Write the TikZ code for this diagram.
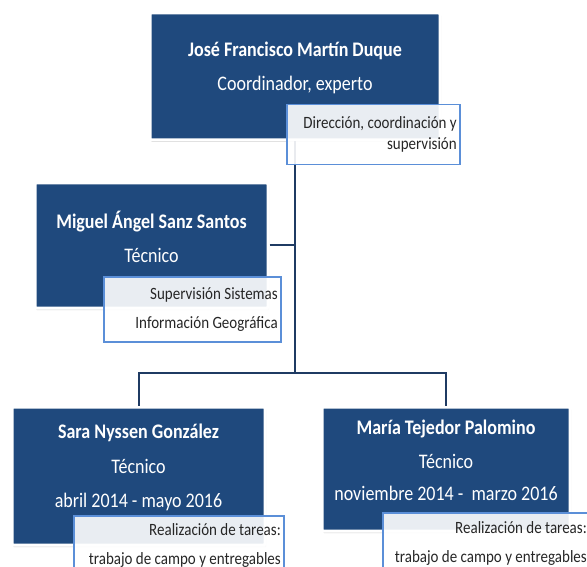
\documentclass[tikz,border=0pt]{standalone}
\usepackage{fontspec}
\setmainfont{Carlito}
\usepackage{tikz}
\usetikzlibrary{positioning,calc,shadows}
\usepackage{xcolor}
\definecolor{azul}{HTML}{1F497D}
\definecolor{marino}{HTML}{1F3B63}
\definecolor{borde}{HTML}{5B8FD8}

\begin{document}
\begin{tikzpicture}[x=1pt, y=-1pt,
    persona/.style={rectangle, anchor=north west, fill=azul, draw=white, line width=3pt,
      rounded corners=1pt, inner sep=0pt,
      drop shadow={shadow xshift=1pt, shadow yshift=-2pt, opacity=0.35}},
    texto/.style={align=center, text=white, font=\fontsize{18}{21}\selectfont,
      yscale=1.15, transform shape},
    nota/.style={rectangle, anchor=north west, fill=white, fill opacity=0.9,
      draw=borde, line width=1.5pt, inner sep=0pt},
    notatexto/.style={anchor=east, align=right, inner sep=0pt, text=black!85,
      font=\fontsize{15}{17}\selectfont, yscale=1.15, transform shape},
    linea/.style={draw=marino, line width=2pt}]
  \clip (0,0) rectangle (587,567);
  \fill[white] (0,0) rectangle (587,567);
  \foreach \id/\x/\y/\w/\h/\txt in {
      jose/148.5/11.5/290/127/{\textbf{José Francisco Martín Duque}\\[9pt]Coordinador, experto},
      miguel/33.5/181.5/233/125/{\textbf{Miguel Ángel Sanz Santos}\\[9pt]Técnico},
      sara/10.5/405.5/253/138/{\textbf{Sara Nyssen González}\\[9pt]Técnico\\[9pt]abril 2014 - mayo 2016},
      maria/320.5/405.5/248/124/{\textbf{María Tejedor Palomino}\\[8pt]Técnico\\[7pt]noviembre 2014 -\ \ marzo 2016}} {
    \node[persona, minimum width=\w, minimum height=\h] (\id) at (\x,\y) {};
    \node[texto] (\id-txt) at ([yshift=8.5pt]\id.center) {\txt};
  }
  \coordinate (rama) at ([yshift=33pt]sara.north -| jose.south);
  \draw[linea] (jose.south) -- (rama);
  \draw[linea] (miguel.east) -- (miguel.east -| jose.south);
  \draw[linea] (sara.north) |- (rama) -| (maria.north);
  \foreach \id/\x/\y/\w/\h/\txt in {
      jose/286/104/173/60/{Dirección, coordinación y\\[1pt]supervisión},
      miguel/103/276/177/65/{Supervisión Sistemas\\[8pt]Información Geográfica},
      sara/73/515/210/59/{Realización de tareas:\\[8pt]trabajo de campo y entregables},
      maria/382/512/207/61/{Realización de tareas:\\[8pt]trabajo de campo y entregables}} {
    \node[nota, minimum width=\w, minimum height=\h] (\id-nota) at (\x,\y) {};
    \node[notatexto] (\id-notatxt) at ([xshift=-3.5pt]\id-nota.east) {\txt};
  }
\end{tikzpicture}
\end{document}
